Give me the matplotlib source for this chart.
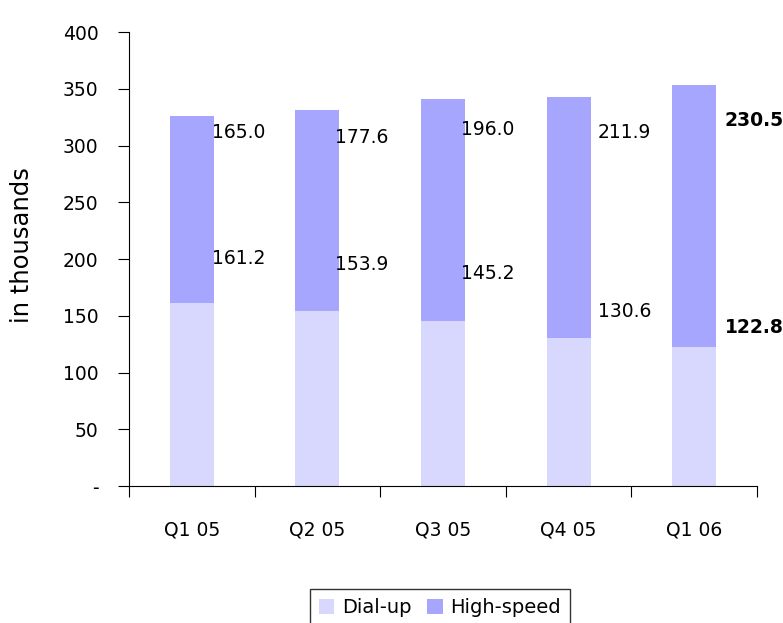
import matplotlib.pyplot as plt
import numpy as np

plt.rcParams["font.family"] = ["DejaVu Sans"]

quarters = ["Q1 05", "Q2 05", "Q3 05", "Q4 05", "Q1 06"]
dial_up = [161.2, 153.9, 145.2, 130.6, 122.8]
high_speed = [165.0, 177.6, 196.0, 211.9, 230.5]

# where the value labels sit (offsets in data units / points)
dial_label_dy = [39, 41, 42, 23, 17]
high_label_dy = [-15, -24, -27, -31, -31]
label_dx_pts = [-1, -3, -3, 5, 6]

DIAL_COLOR = "#D8D8FF"
HIGH_COLOR = "#A6A6FF"

fig = plt.figure(figsize=(7.83, 6.23), dpi=100)
ax = fig.add_axes([0.1648, 0.2199, 0.802, 0.7287])

x = np.arange(len(quarters))
ax.bar(x, dial_up, width=0.35, color=DIAL_COLOR, label="Dial-up")
ax.bar(x, high_speed, width=0.35, bottom=dial_up, color=HIGH_COLOR, label="High-speed")

for i in range(len(quarters)):
    total = dial_up[i] + high_speed[i]
    weight = "semibold" if i == len(quarters) - 1 else "normal"
    ax.annotate(f"{high_speed[i]:.1f}", (x[i] + 0.175, total + high_label_dy[i]),
                xytext=(label_dx_pts[i], 0), textcoords="offset points",
                ha="left", va="center", fontsize=13.5, fontweight=weight)
    ax.annotate(f"{dial_up[i]:.1f}", (x[i] + 0.175, dial_up[i] + dial_label_dy[i]),
                xytext=(label_dx_pts[i], 0), textcoords="offset points",
                ha="left", va="center", fontsize=13.5, fontweight=weight)

ax.set_xlim(-0.5, len(quarters) - 0.5)
ax.set_ylim(0, 400)
ax.set_yticks(range(0, 401, 50))
ax.set_yticklabels(["-"] + [str(v) for v in range(50, 401, 50)], fontsize=13.5)

ax.set_xticks(np.arange(-0.5, len(quarters), 1.0))
ax.set_xticklabels([])
ax.set_xticks(x, minor=True)
ax.set_xticklabels(quarters, minor=True, fontsize=13.5)
ax.tick_params(axis="x", which="minor", length=0, pad=25)
ax.tick_params(axis="x", which="major", length=8, direction="out")
ax.tick_params(axis="y", length=8, pad=14)

ax.spines["top"].set_visible(False)
ax.spines["right"].set_visible(False)
ax.set_ylabel("in thousands", fontsize=17.5, va="center")
ax.yaxis.set_label_coords(-0.17, 0.531)

ax.legend(loc="center", bbox_to_anchor=(0.562, 0.025), bbox_transform=fig.transFigure,
          ncol=2, frameon=True, fancybox=False, edgecolor="black", fontsize=14,
          handlelength=0.8, handleheight=0.8, handletextpad=0.4, columnspacing=0.8,
          borderpad=0.45)

fig.savefig("out.png", dpi=100)
